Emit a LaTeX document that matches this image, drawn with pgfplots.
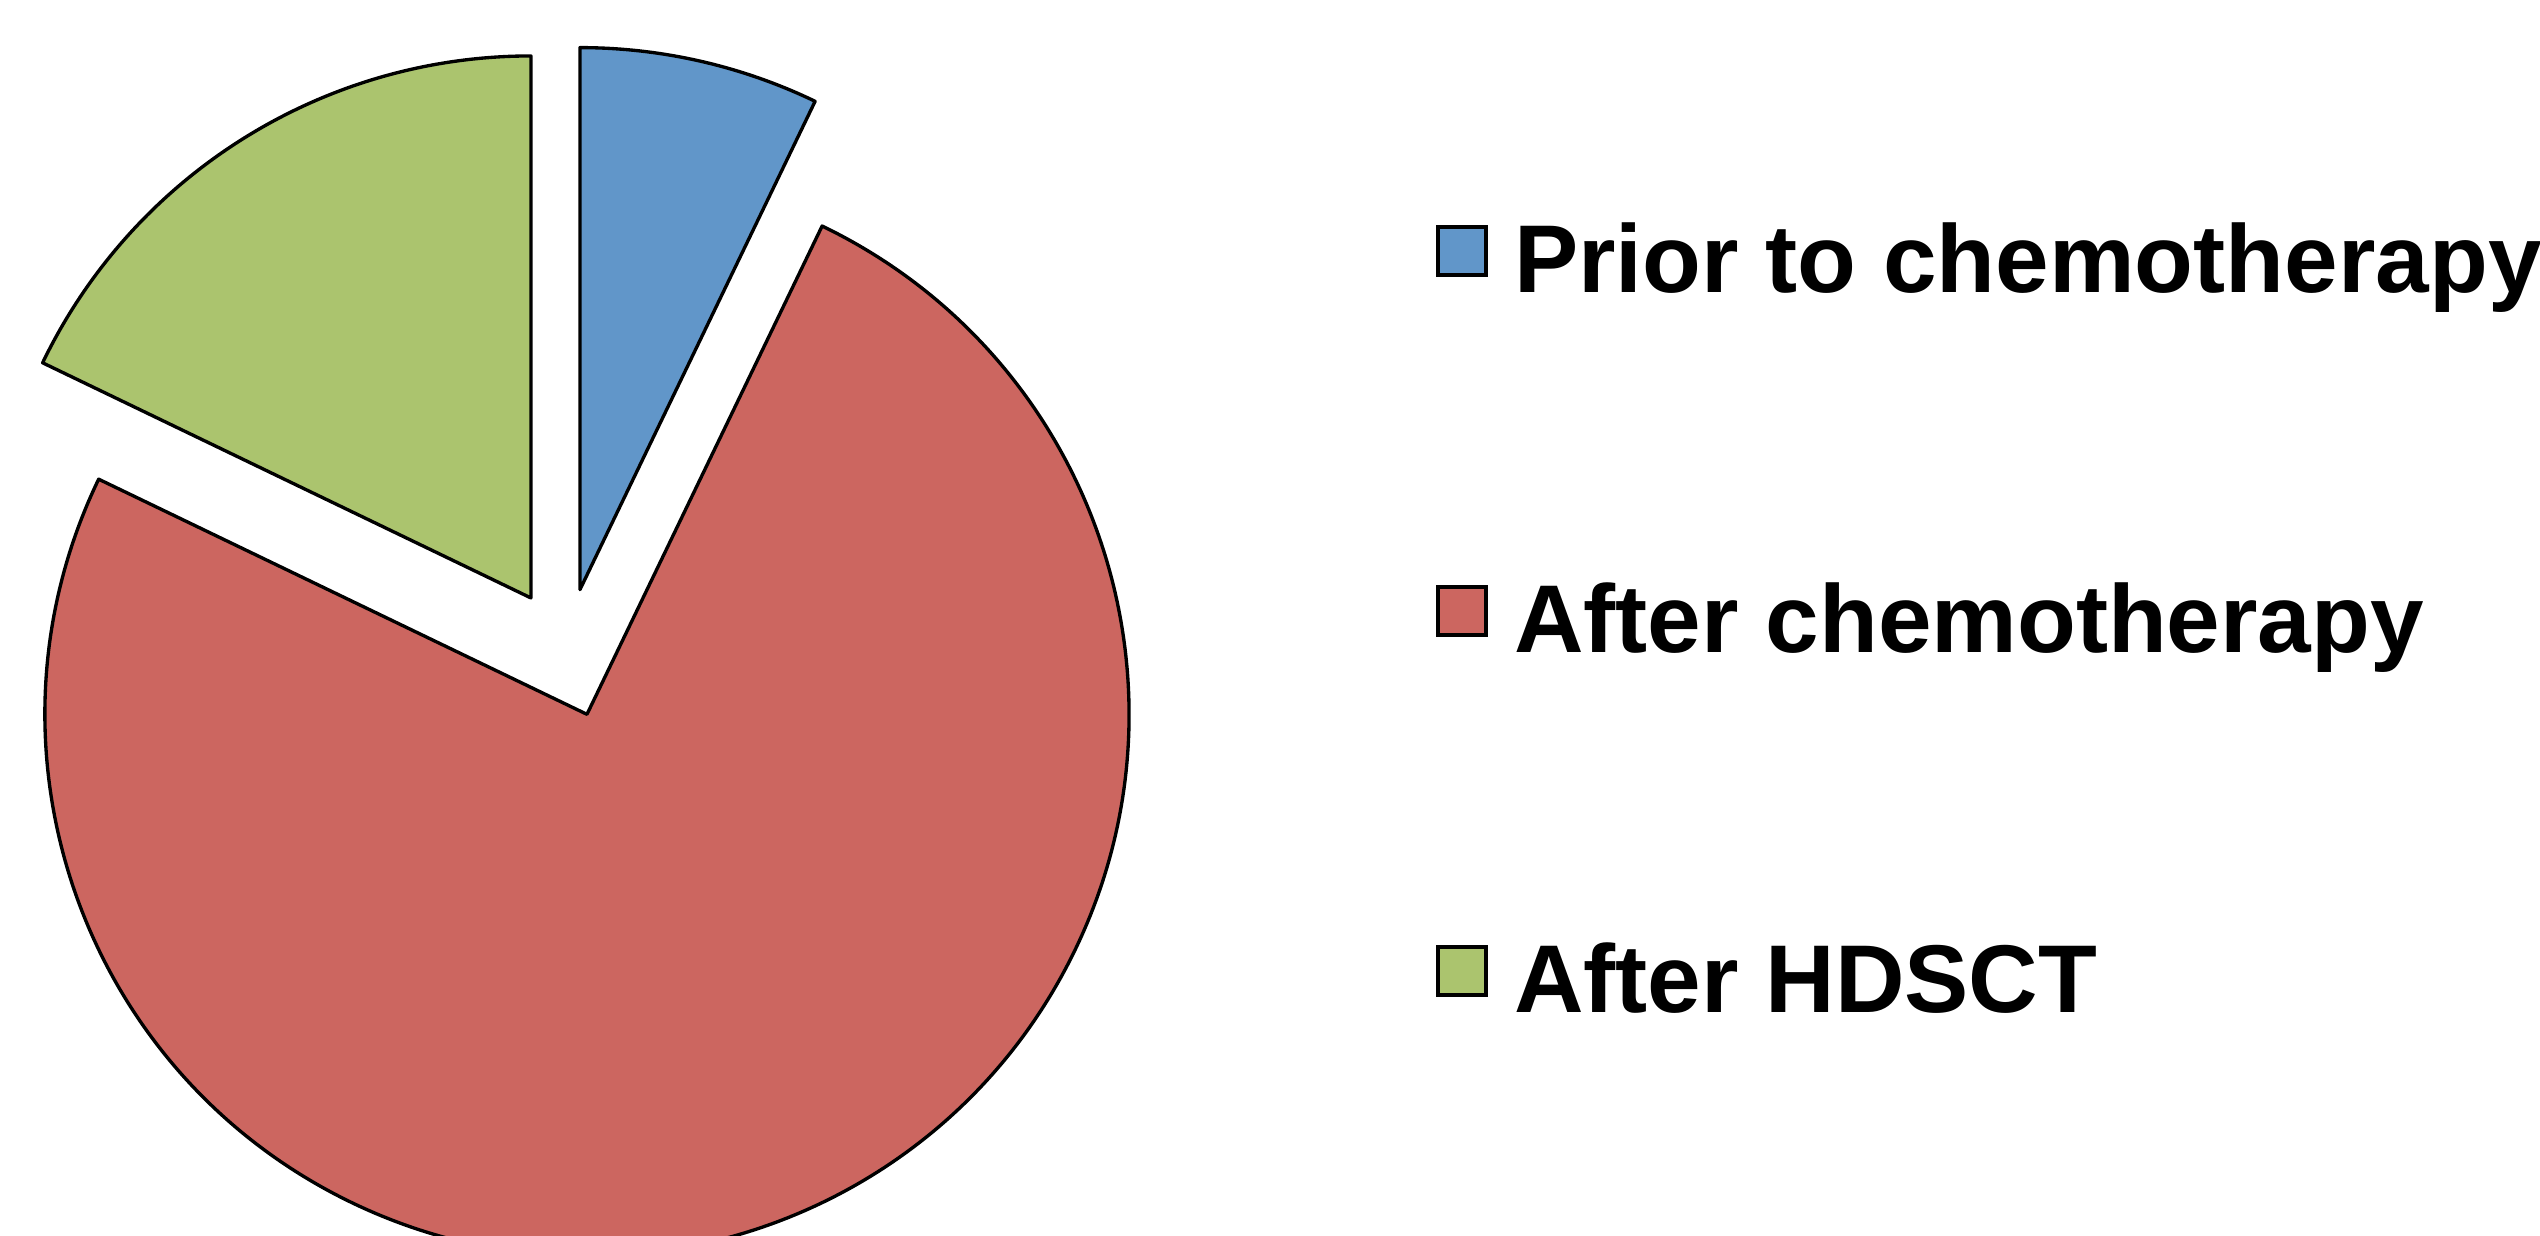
\documentclass[border=0pt]{standalone}
\usepackage{pgfplots}
\pgfplotsset{compat=1.18}
\usepackage{pgfplotstable}
\usepackage{fontspec}
\setmainfont{Liberation Sans}
\definecolor{cPrior}{RGB}{97,150,201}
\definecolor{cAfter}{RGB}{204,102,96}
\definecolor{cHDSCT}{RGB}{171,196,110}

\pgfplotstableread{
label value
Prior 2
After 21
HDSCT 5
}\piedata

\begin{document}
\begin{tikzpicture}
\pgfplotstablegetelem{0}{value}\of\piedata \edef\va{\pgfplotsretval}
\pgfplotstablegetelem{1}{value}\of\piedata \edef\vb{\pgfplotsretval}
\pgfplotstablegetelem{2}{value}\of\piedata \edef\vc{\pgfplotsretval}
\pgfmathsetmacro\tot{\va+\vb+\vc}
\pgfmathsetmacro\aA{90}
\pgfmathsetmacro\aB{90-360*\va/\tot}
\pgfmathsetmacro\aC{90-360*(\va+\vb)/\tot}
\pgfmathsetmacro\aD{90-360}
\def\cx{565.5}\def\cy{583}\def\ex{65}
\pgfmathsetmacro\mA{(\aA+\aB)/2}
\pgfmathsetmacro\mB{(\aB+\aC)/2}
\pgfmathsetmacro\mC{(\aC+\aD)/2}
\pgfmathsetmacro\pAx{\cx+\ex*cos(\mA)}\pgfmathsetmacro\pAy{\cy+\ex*sin(\mA)}
\pgfmathsetmacro\pBx{\cx+\ex*cos(\mB)}\pgfmathsetmacro\pBy{\cy+\ex*sin(\mB)}
\pgfmathsetmacro\pCx{\cx+\ex*cos(\mC)}\pgfmathsetmacro\pCy{\cy+\ex*sin(\mC)}
\begin{axis}[
  scale only axis, width=254mm, height=123.6mm,
  xmin=0, xmax=2540, ymin=0, ymax=1236,
  hide axis, clip=true,
  legend cell align=left,
  legend style={draw=none, fill=none, at={(axis cs:1425,1020)}, anchor=north west,
    font=\fontsize{27.4}{33}\selectfont\bfseries, row sep=27.1mm, column sep=2.6mm,
    nodes={inner sep=0pt, text height=6.9mm, text depth=2mm}},
  legend image code/.code={\draw[#1, draw=black, line width=1.15pt] (0mm,-0.65mm) rectangle (4.8mm,4.15mm);},
]
\addlegendimage{fill=cPrior}
\addlegendentry{Prior to chemotherapy}
\addlegendimage{fill=cAfter}
\addlegendentry{After chemotherapy}
\addlegendimage{fill=cHDSCT}
\addlegendentry{After HDSCT}
\filldraw[fill=cPrior, draw=black, line width=0.95pt, line join=round] (axis cs:\pAx,\pAy) -- ++(\aA:54.2mm) arc[start angle=\aA, end angle=\aB, radius=54.2mm] -- cycle;
\filldraw[fill=cAfter, draw=black, line width=0.95pt, line join=round] (axis cs:\pBx,\pBy) -- ++(\aB:54.2mm) arc[start angle=\aB, end angle=\aC, radius=54.2mm] -- cycle;
\filldraw[fill=cHDSCT, draw=black, line width=0.95pt, line join=round] (axis cs:\pCx,\pCy) -- ++(\aC:54.2mm) arc[start angle=\aC, end angle=\aD, radius=54.2mm] -- cycle;
\end{axis}
\pgfresetboundingbox
\useasboundingbox (current axis.south west) rectangle (current axis.north east);
\end{tikzpicture}
\end{document}
